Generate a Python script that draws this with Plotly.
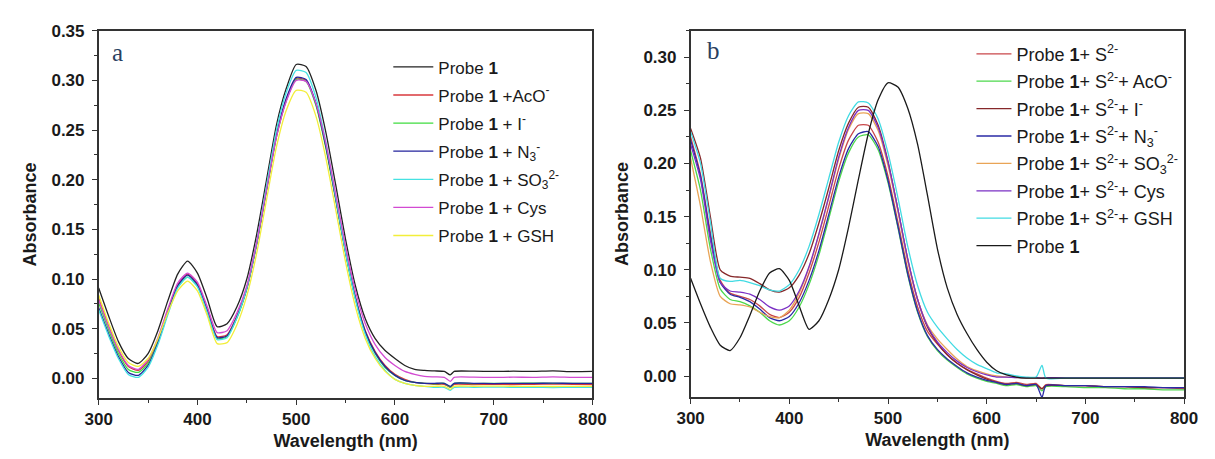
import plotly.graph_objects as go

# wavelength grid (nm), shared by every spectrum
wavelength = sorted(list(range(300, 660, 10)) + [656, 660, 680, 700, 720, 740, 760, 780, 800])

# ---- panel a: probe 1 alone and with other anions / thiols ----
a_probe = [0.091, 0.063, 0.037, 0.020, 0.015, 0.025, 0.048, 0.078, 0.105, 0.118, 0.106, 0.080, 0.052, 0.055,
           0.072, 0.100, 0.145, 0.200, 0.255, 0.292, 0.316, 0.314, 0.290, 0.248, 0.195, 0.140, 0.093, 0.060,
           0.040, 0.028, 0.020, 0.013, 0.009, 0.008, 0.0075, 0.007, 0.0035, 0.007, 0.0072, 0.007, 0.0072,
           0.007, 0.0075, 0.0068, 0.007]
a_aco = [0.081, 0.053, 0.028, 0.012, 0.008, 0.017, 0.039, 0.068, 0.094, 0.105, 0.095, 0.069, 0.042, 0.044,
         0.063, 0.091, 0.136, 0.190, 0.244, 0.280, 0.302, 0.300, 0.276, 0.234, 0.182, 0.128, 0.082, 0.048,
         0.027, 0.013, 0.004, -0.001, -0.004, -0.005, -0.006, -0.006, -0.009, -0.006, -0.0062, -0.006,
         -0.0062, -0.006, -0.0058, -0.006, -0.0062]
a_iodide = [0.076, 0.049, 0.025, 0.009, 0.006, 0.015, 0.037, 0.066, 0.092, 0.102, 0.093, 0.067, 0.040, 0.042,
            0.061, 0.090, 0.135, 0.189, 0.243, 0.280, 0.301, 0.299, 0.275, 0.232, 0.180, 0.126, 0.080, 0.046,
            0.025, 0.011, 0.003, -0.002, -0.004, -0.005, -0.0055, -0.005, -0.009, -0.005, -0.0052, -0.005,
            -0.005, -0.0048, -0.005, -0.005, -0.005]
a_azide = [0.071, 0.045, 0.022, 0.006, 0.003, 0.013, 0.036, 0.066, 0.093, 0.104, 0.094, 0.068, 0.041, 0.043,
           0.062, 0.091, 0.136, 0.191, 0.245, 0.282, 0.303, 0.301, 0.277, 0.234, 0.181, 0.127, 0.081, 0.047,
           0.026, 0.012, 0.003, -0.002, -0.004, -0.005, -0.005, -0.005, -0.008, -0.005, -0.005, -0.0052,
           -0.005, -0.005, -0.0048, -0.005, -0.005]
a_sulfite = [0.069, 0.043, 0.020, 0.004, 0.001, 0.011, 0.034, 0.064, 0.091, 0.102, 0.092, 0.066, 0.039, 0.041,
             0.061, 0.091, 0.137, 0.194, 0.250, 0.288, 0.310, 0.308, 0.283, 0.238, 0.183, 0.127, 0.079, 0.044,
             0.022, 0.008, -0.001, -0.005, -0.007, -0.008, -0.009, -0.009, -0.012, -0.009, -0.009, -0.0088,
             -0.009, -0.009, -0.0092, -0.009, -0.009]
a_cys = [0.079, 0.052, 0.029, 0.013, 0.009, 0.019, 0.041, 0.070, 0.096, 0.106, 0.097, 0.072, 0.046, 0.048,
         0.066, 0.093, 0.137, 0.190, 0.243, 0.279, 0.300, 0.299, 0.277, 0.237, 0.186, 0.133, 0.088, 0.055,
         0.034, 0.021, 0.013, 0.007, 0.004, 0.002, 0.0015, 0.001, -0.003, 0.001, 0.0012, 0.001, 0.0012,
         0.001, 0.0015, 0.001, 0.001]
a_gsh = [0.084, 0.056, 0.032, 0.016, 0.012, 0.020, 0.040, 0.066, 0.088, 0.098, 0.088, 0.063, 0.035, 0.036,
         0.054, 0.083, 0.126, 0.180, 0.233, 0.270, 0.290, 0.288, 0.264, 0.222, 0.170, 0.117, 0.072, 0.040,
         0.020, 0.007, -0.001, -0.005, -0.007, -0.008, -0.008, -0.008, -0.011, -0.008, -0.008, -0.0078,
         -0.008, -0.008, -0.0082, -0.008, -0.008]

a_names = ["Probe <b>1</b>", "Probe <b>1</b> +AcO<sup>-</sup>", "Probe <b>1</b> + I<sup>-</sup>",
           "Probe <b>1</b> + N<sub>3</sub><sup>-</sup>", "Probe <b>1</b> + SO<sub>3</sub><sup>2-</sup>",
           "Probe <b>1</b> + Cys", "Probe <b>1</b> + GSH"]
a_series = [a_probe, a_aco, a_iodide, a_azide, a_sulfite, a_cys, a_gsh]
a_colors = ["#222222", "#d8383c", "#3fdc3f", "#23239c", "#45e2e2", "#d24ad2", "#f2ee3a"]

# ---- panel b: probe 1 + S2- with competing species ----
b_s2 = [0.225, 0.190, 0.135, 0.090, 0.078, 0.075, 0.072, 0.066, 0.058, 0.055, 0.060, 0.074, 0.097, 0.126,
        0.160, 0.195, 0.222, 0.236, 0.236, 0.220, 0.188, 0.145, 0.100, 0.065, 0.042, 0.030, 0.020, 0.012,
        0.006, 0.002, -0.002, -0.005, -0.007, -0.006, -0.008, -0.007, -0.012, -0.008, -0.009, -0.009,
        -0.010, -0.010, -0.011, -0.011, -0.012]
b_aco = [0.212, 0.175, 0.120, 0.082, 0.072, 0.070, 0.066, 0.060, 0.052, 0.048, 0.052, 0.065, 0.086, 0.114,
         0.148, 0.183, 0.210, 0.225, 0.227, 0.213, 0.182, 0.140, 0.095, 0.060, 0.037, 0.024, 0.015, 0.008,
         0.002, -0.002, -0.005, -0.007, -0.009, -0.008, -0.010, -0.009, -0.014, -0.010, -0.010, -0.011,
         -0.011, -0.012, -0.012, -0.013, -0.013]
b_iodide = [0.233, 0.205, 0.150, 0.100, 0.094, 0.093, 0.092, 0.087, 0.081, 0.079, 0.083, 0.095, 0.115, 0.144,
            0.177, 0.212, 0.238, 0.253, 0.253, 0.236, 0.202, 0.157, 0.110, 0.072, 0.046, 0.031, 0.020, 0.012,
            0.006, 0.001, -0.003, -0.006, -0.008, -0.007, -0.009, -0.008, -0.012, -0.009, -0.009, -0.009,
            -0.010, -0.010, -0.011, -0.011, -0.011]
b_azide = [0.222, 0.188, 0.132, 0.088, 0.077, 0.074, 0.070, 0.063, 0.055, 0.052, 0.056, 0.069, 0.090, 0.118,
           0.152, 0.187, 0.214, 0.228, 0.230, 0.216, 0.184, 0.141, 0.096, 0.061, 0.038, 0.025, 0.016, 0.009,
           0.003, -0.001, -0.004, -0.006, -0.008, -0.007, -0.009, -0.008, -0.020, -0.009, -0.009, -0.009,
           -0.010, -0.010, -0.010, -0.011, -0.011]
b_sulfite = [0.205, 0.160, 0.108, 0.075, 0.068, 0.067, 0.065, 0.060, 0.056, 0.055, 0.062, 0.078, 0.102, 0.133,
             0.168, 0.204, 0.232, 0.247, 0.247, 0.231, 0.198, 0.155, 0.108, 0.072, 0.048, 0.035, 0.025, 0.016,
             0.009, 0.005, 0.002, 0.000, -0.001, -0.0015, -0.002, -0.002, -0.002, -0.002, -0.002, -0.002,
             -0.002, -0.002, -0.002, -0.002, -0.002]
b_cys = [0.218, 0.185, 0.128, 0.088, 0.080, 0.079, 0.077, 0.072, 0.065, 0.062, 0.066, 0.080, 0.103, 0.134,
         0.169, 0.206, 0.234, 0.250, 0.250, 0.234, 0.201, 0.157, 0.110, 0.072, 0.047, 0.032, 0.022, 0.014,
         0.008, 0.004, 0.001, -0.001, -0.001, -0.0015, -0.0015, -0.0015, -0.002, -0.0015, -0.0015, -0.0015,
         -0.0015, -0.0015, -0.0015, -0.0015, -0.0015]
b_gsh = [0.230, 0.200, 0.145, 0.092, 0.089, 0.090, 0.088, 0.085, 0.081, 0.080, 0.086, 0.100, 0.122, 0.152,
         0.186, 0.220, 0.245, 0.258, 0.257, 0.242, 0.210, 0.168, 0.122, 0.085, 0.060, 0.046, 0.035, 0.025,
         0.017, 0.011, 0.007, 0.003, 0.002, 0.000, -0.001, -0.001, 0.010, -0.002, -0.002, -0.002,
         -0.002, -0.002, -0.002, -0.002, -0.002]
b_probe = [0.092, 0.068, 0.046, 0.029, 0.024, 0.036, 0.057, 0.080, 0.097, 0.101, 0.090, 0.066, 0.044, 0.052,
           0.072, 0.100, 0.140, 0.185, 0.228, 0.260, 0.276, 0.272, 0.252, 0.218, 0.170, 0.120, 0.083, 0.058,
           0.040, 0.025, 0.013, 0.005, 0.001, -0.001, -0.002, -0.002, -0.002, -0.002, -0.002, -0.002,
           -0.002, -0.002, -0.002, -0.002, -0.002]

b_names = ["Probe <b>1</b>+ S<sup>2-</sup>", "Probe <b>1</b>+ S<sup>2-</sup>+ AcO<sup>-</sup>",
           "Probe <b>1</b>+ S<sup>2-</sup>+ I<sup>-</sup>", "Probe <b>1</b>+ S<sup>2-</sup>+ N<sub>3</sub><sup>-</sup>",
           "Probe <b>1</b>+ S<sup>2-</sup>+ SO<sub>3</sub><sup>2-</sup>", "Probe <b>1</b>+ S<sup>2-</sup>+ Cys",
           "Probe <b>1</b>+ S<sup>2-</sup>+ GSH", "Probe <b>1</b>"]
b_series = [b_s2, b_aco, b_iodide, b_azide, b_sulfite, b_cys, b_gsh, b_probe]
b_colors = ["#c9474a", "#4cd84c", "#86282a", "#2a2aa6", "#e9a456", "#7b30c4", "#42dbe3", "#1a1a1a"]

x_ticks = [300, 400, 500, 600, 700, 800]

FONT = "Arial, Liberation Sans, sans-serif"
fig = go.Figure()

for i, (name, ys, col) in enumerate(zip(a_names, a_series, a_colors)):
    fig.add_trace(go.Scatter(x=wavelength, y=ys, name=name, mode="lines", legend="legend",
                             legendgroup=f"a{i}", line=dict(color=col, width=1.3, shape="spline", smoothing=0.6),
                             xaxis="x", yaxis="y"))
for i, (name, ys, col) in enumerate(zip(b_names, b_series, b_colors)):
    fig.add_trace(go.Scatter(x=wavelength, y=ys, name=name, mode="lines", legend="legend2",
                             legendgroup=f"b{i}", line=dict(color=col, width=1.3, shape="spline", smoothing=0.6),
                             xaxis="x2", yaxis="y2"))

# the page body keeps its default 8px margin, so the figure is 8px smaller than the window
W, H = 1207, 451
axis_common = dict(showline=True, linecolor="#333333", linewidth=1.5, mirror=True, ticks="outside",
                   ticklen=5, tickwidth=1.2, tickcolor="#333333", showgrid=False, zeroline=False,
                   tickfont=dict(family=FONT, size=17, color="#1a1a1a", weight="bold"),
                   title_font=dict(family=FONT, size=18, color="#1a1a1a", weight="bold"))
minor_x = dict(dtick=50, ticks="outside", ticklen=3, tickcolor="#333333", showgrid=False)
minor_y = dict(dtick=0.025, ticks="outside", ticklen=3, tickcolor="#333333", showgrid=False)

fig.update_layout(
    width=W, height=H,
    margin=dict(l=0, r=0, t=0, b=0),
    paper_bgcolor="white", plot_bgcolor="white",
    xaxis=dict(axis_common, domain=[78.5 / W, 584 / W], range=[300, 800], tickvals=x_ticks,
               minor=minor_x, title=dict(text="Wavelength (nm)", standoff=6), anchor="y"),
    yaxis=dict(axis_common, domain=[1 - 389 / H, 1 - 14 / H], range=[-0.02, 0.35], dtick=0.05,
               tickformat=".2f", minor=minor_y, ticklabelstandoff=4,
               title=dict(text="Absorbance", standoff=10), anchor="x"),
    xaxis2=dict(axis_common, domain=[684.5 / W, 1189.7 / W], range=[300, 800], tickvals=x_ticks,
                minor=minor_x, title=dict(text="Wavelength (nm)", standoff=6), anchor="y2"),
    yaxis2=dict(axis_common, domain=[1 - 388 / H, 1 - 14 / H], range=[-0.02, 0.325], dtick=0.05,
                tickformat=".2f", minor=minor_y, ticklabelstandoff=4,
                title=dict(text="Absorbance", standoff=10), anchor="x2"),
    legend=dict(x=375 / W, y=1 - 33 / H, xanchor="left", yanchor="top", bgcolor="rgba(0,0,0,0)",
                font=dict(family=FONT, size=17, color="#1a1a1a"), tracegroupgap=3, itemwidth=40),
    legend2=dict(x=972 / W, y=1 - 19 / H, xanchor="left", yanchor="top", bgcolor="rgba(0,0,0,0)",
                 font=dict(family=FONT, size=18, color="#1a1a1a"), tracegroupgap=1, itemwidth=35),
    annotations=[
        dict(text="a", x=0.039, y=0.94, xref="x domain", yref="y domain", showarrow=False,
             xanchor="center", yanchor="middle",
             font=dict(family="Liberation Serif, Times New Roman, serif", size=25)),
        dict(text="b", x=0.047, y=0.947, xref="x2 domain", yref="y2 domain", showarrow=False,
             xanchor="center", yanchor="middle",
             font=dict(family="Liberation Serif, Times New Roman, serif", size=25)),
    ],
)

fig.write_html("out.html")
